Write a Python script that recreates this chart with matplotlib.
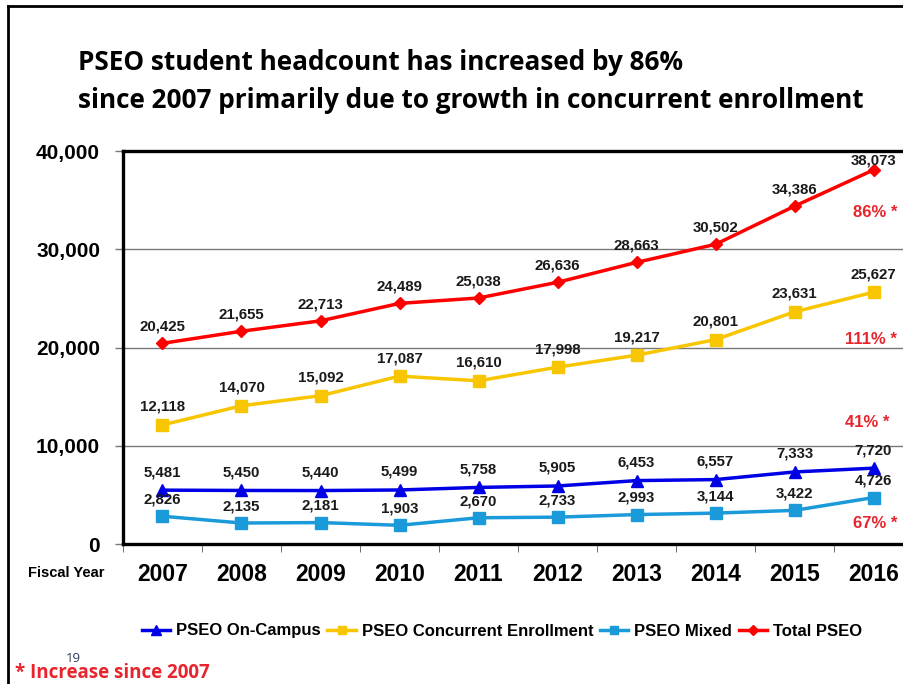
import matplotlib
matplotlib.use("Agg")
import matplotlib.pyplot as plt
from matplotlib.lines import Line2D
import numpy as np

years = ["2007", "2008", "2009", "2010", "2011", "2012", "2013", "2014", "2015", "2016"]
on_campus = [5481, 5450, 5440, 5499, 5758, 5905, 6453, 6557, 7333, 7720]
concurrent = [12118, 14070, 15092, 17087, 16610, 17998, 19217, 20801, 23631, 25627]
mixed = [2826, 2135, 2181, 1903, 2670, 2733, 2993, 3144, 3422, 4726]
total = [20425, 21655, 22713, 24489, 25038, 26636, 28663, 30502, 34386, 38073]
series_names = ["PSEO On-Campus", "PSEO Concurrent Enrollment", "PSEO Mixed", "Total PSEO"]
pct_labels = ["41% *", "111% *", "67% *", "86% *"]
yticks = [0, 10000, 20000, 30000, 40000]

c_blue = "#0000E6"
c_yellow = "#F8C600"
c_light = "#1A9AD8"
c_red = "#FF0000"
c_pct = "#E8242C"

AR = "Liberation Sans"
TF = "Open Sans"

fig = plt.figure(figsize=(9.04, 6.84), dpi=100)
ax = fig.add_axes([123/904, 1-544/684, (913-123)/904, (544-151)/684])

x = np.arange(len(years))
ax.plot(x, total, color=c_red, lw=2.5, marker="D", ms=6, zorder=4)
ax.plot(x, concurrent, color=c_yellow, lw=2.5, marker="s", ms=9, zorder=4)
ax.plot(x, on_campus, color=c_blue, lw=2.5, marker="^", ms=9, zorder=4)
ax.plot(x, mixed, color=c_light, lw=2.5, marker="s", ms=9, zorder=4)

def lab(vals, dy, last_dy=None):
    for i, (xi, v) in enumerate(zip(x, vals)):
        d = dy
        if last_dy is not None and i == len(vals) - 1:
            d = last_dy
        ax.annotate(f"{v:,}", (xi, v), xytext=(0, d), textcoords="offset points",
                    ha="center", va="center", fontsize=10.8, fontweight="bold",
                    family=AR, color="#1a1a1a", zorder=5, annotation_clip=False)

lab(total, 12, last_dy=6.5)
lab(concurrent, 13)
lab(on_campus, 13)
lab(mixed, 12)

ax.set_xlim(-0.5, len(years) - 0.5)
ax.set_ylim(0, 40000)
ax.set_yticks(yticks)
ax.set_yticklabels([f"{t:,}" for t in yticks], fontsize=15, fontweight="bold", family=AR)
ax.set_xticks(x)
ax.set_xticklabels(years, fontsize=16.5, fontweight="bold", family=AR)
ax.set_xticks(np.arange(-0.5, len(years), 1), minor=True)
ax.tick_params(axis="x", which="major", length=0, pad=14)
ax.tick_params(axis="x", which="minor", length=6, color="#555555", direction="out")
ax.tick_params(axis="y", length=6, color="#777777", width=1, pad=10.5)
ax.grid(axis="y", color="#777777", lw=1)
ax.set_axisbelow(True)
for s in ["left", "top", "bottom"]:
    ax.spines[s].set_linewidth(2.4)
    ax.spines[s].set_color("black")
ax.spines["right"].set_visible(False)

# percentage annotations
ax.text(9.3, 33700, pct_labels[3], color=c_pct, fontsize=12, fontweight="bold", family=AR, ha="right", va="center")
ax.text(9.3, 20800, pct_labels[1], color=c_pct, fontsize=12, fontweight="bold", family=AR, ha="right", va="center")
ax.text(9.2, 12400, pct_labels[0], color=c_pct, fontsize=12, fontweight="bold", family=AR, ha="right", va="center")
ax.text(9.3, 2100, pct_labels[2], color=c_pct, fontsize=12, fontweight="bold", family=AR, ha="right", va="center")

fig.text(28/904, 1-573/684, "Fiscal Year", fontsize=10.5, fontweight="bold", family=AR, va="center", ha="left")

fig.text(78/904, 1-62/684, "PSEO student headcount has increased by 86%", fontsize=18.8, fontweight="bold", family=TF, va="center")
fig.text(78/904, 1-101/684, "since 2007 primarily due to growth in concurrent enrollment", fontsize=18.8, fontweight="bold", family=TF, va="center")

handles = [
    Line2D([], [], color=c_blue, lw=2.5, marker="^", ms=7),
    Line2D([], [], color=c_yellow, lw=2.5, marker="s", ms=6),
    Line2D([], [], color=c_light, lw=2.5, marker="s", ms=6),
    Line2D([], [], color=c_red, lw=2.5, marker="D", ms=5),
]
fig.legend(handles, series_names, loc="center", bbox_to_anchor=(502/904, 1-631/684), ncol=4,
           frameon=False, handlelength=1.7, handletextpad=0.35, columnspacing=0.4,
           prop={"family": AR, "weight": "bold", "size": 12})

fig.text(66/904, 1-658/684, "19", fontsize=9.5, color="#2F3B5C", family="Open Sans", va="center")
fig.text(15/904, 1-673/684, "* Increase since 2007", fontsize=13.5, color=c_pct, fontweight="bold", family=TF, va="center")

# slide frame
fig.add_artist(Line2D([8/904, 8/904], [0, 1-6/684], transform=fig.transFigure, color="black", lw=2))
fig.add_artist(Line2D([8/904, 1], [1-6/684, 1-6/684], transform=fig.transFigure, color="black", lw=2))

fig.savefig("out.png", dpi=100)
